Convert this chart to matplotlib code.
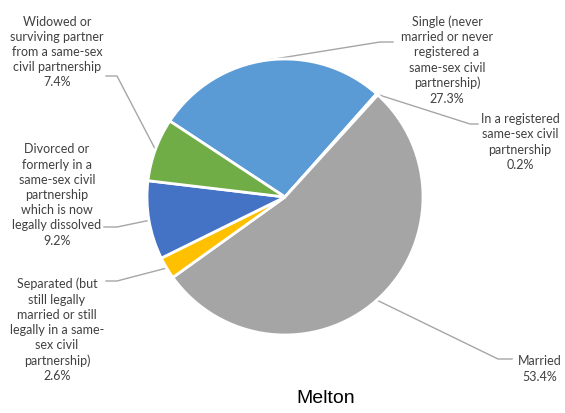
import matplotlib.pyplot as plt
import numpy as np

# data
labels = ["Single (never\nmarried or never\nregistered a\nsame-sex civil\npartnership)",
          "In a registered\nsame-sex civil\npartnership",
          "Married",
          "Separated (but\nstill legally\nmarried or still\nlegally in a same-\nsex civil\npartnership)",
          "Divorced or\nformerly in a\nsame-sex civil\npartnership\nwhich is now\nlegally dissolved",
          "Widowed or\nsurviving partner\nfrom a same-sex\ncivil partnership"]
values = [27.3, 0.2, 53.4, 2.6, 9.2, 7.4]
colors = ["#5B9BD5", "#ED7D31", "#A5A5A5", "#FFC000", "#4472C4", "#70AD47"]

# label layout in pixels: text centre, leader elbow, leader end
CX, CY, R = 285, 198, 138
layout = [
    ((447, 60), (380, 43), (393, 43)),
    ((520, 142), (470, 125), (478, 125)),
    ((540, 369), (498, 360), (512, 360)),
    ((57, 330), (117, 282), (106, 282)),
    ((57, 195), (117, 228), (104, 228)),
    ((57, 52), (117, 77), (106, 77)),
]


def px(p):
    return ((p[0] - CX) / R, (CY - p[1]) / R)


fig = plt.figure(figsize=(5.65, 4.14), dpi=100)
ax = fig.add_axes([0, 0, 1, 1])

wedges, _ = ax.pie(values, colors=colors, startangle=146.6, counterclock=False,
                   radius=1, wedgeprops=dict(edgecolor="white", linewidth=2))

for w, lab, val, (tc, elbow, end) in zip(wedges, labels, values, layout):
    mid = np.deg2rad((w.theta1 + w.theta2) / 2)
    p0 = (np.cos(mid), np.sin(mid))
    e = px(elbow)
    f = px(end)
    ax.plot([p0[0], e[0], f[0]], [p0[1], e[1], f[1]], color="#A6A6A6", lw=1, zorder=0)
    t = px(tc)
    ax.text(t[0], t[1], lab + "\n%.1f%%" % val, ha="center", va="center",
            fontsize=9, family="Lato", color="#404040", linespacing=1.32)

tt = px((326, 399))
ax.text(tt[0], tt[1], "Melton", ha="center", va="center", fontsize=14,
        family="Liberation Sans", color="black")

ax.set_xlim(-CX / R, (565 - CX) / R)
ax.set_ylim(-(414 - CY) / R, CY / R)
ax.set_aspect("auto")
ax.axis("off")

fig.savefig("out.png", dpi=100, facecolor="white")
